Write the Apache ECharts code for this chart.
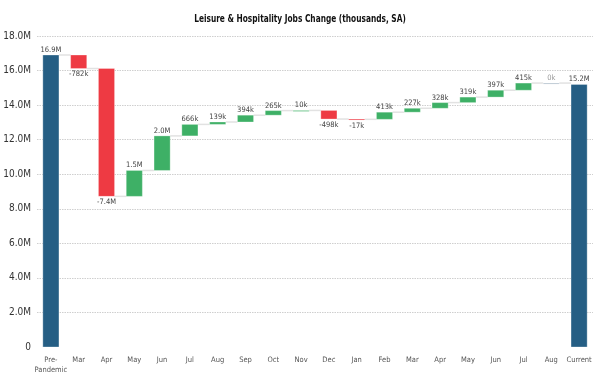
<!DOCTYPE html>
<html><head><meta charset="utf-8">
<script src="https://cdn.jsdelivr.net/npm/echarts@6/dist/echarts.min.js"></script>
<style>html,body{margin:0;padding:0;background:#fff}#c{width:600px;height:377px}</style>
</head><body><div id="c"></div>
<script>
const categories = ['Pre-\nPandemic','Mar','Apr','May','Jun','Jul','Aug','Sep','Oct','Nov','Dec','Jan','Feb','Mar','Apr','May','Jun','Jul','Aug','Current'];
const startTotal = 16900;   // thousands
const changes = [-782,-7400,1500,2000,666,139,394,265,10,-498,-17,413,227,328,319,397,415,0];
const endTotal = 15200;
const yTicks = {min:0, max:18000, interval:2000};
const titleText = 'Leisure & Hospitality Jobs Change (thousands, SA)';

function fmt(v){ return Math.abs(v)>=1000 ? (v/1000).toFixed(1)+'M' : v+'k'; }
// waterfall rows [index, from, to, kind, label]
const rows = [];
rows.push([0, 0, startTotal, 'total', fmt(startTotal)]);
let run = startTotal;
changes.forEach((c,i)=>{ rows.push([i+1, run, run+c, c>0?'up':(c<0?'down':'zero'), fmt(c)]); run += c; });
rows.push([rows.length, 0, endTotal, 'total', fmt(endTotal)]);

const colors = {total:'#255e84', up:'#3eb066', down:'#ee3a43', zero:'#a9b8c6'};
const NARROW = '"DejaVu Sans Condensed", sans-serif';
const chart = echarts.init(document.getElementById('c'));
chart.setOption({
  animation:false,
  graphic:[{type:'text', x:300, y:19, scaleX:0.75, originX:0, originY:0,
    style:{text:titleText, align:'center', verticalAlign:'middle',
      font:'bold 11px "DejaVu Sans Condensed", sans-serif', fill:'#111'}}],
  grid:{left:37, right:7, top:36, bottom:30},
  xAxis:{type:'category', data:categories.map((c,i)=>String(i)), axisLine:{show:false}, axisTick:{show:false},
    axisLabel:{interval:0, fontFamily:NARROW, fontSize:7.5, color:'#555', margin:8, lineHeight:10,
      formatter:(v)=>categories[+v]}},
  yAxis:{type:'value', min:yTicks.min, max:yTicks.max, interval:yTicks.interval,
    axisLine:{show:false}, axisTick:{show:false},
    splitLine:{showMinLine:false, lineStyle:{color:'#cfcfcf', type:[1.5,1], width:1}},
    axisLabel:{fontFamily:NARROW, fontSize:10, color:'#333', margin:6,
      formatter:(v)=> v===0?'0':(v/1000).toFixed(1)+'M'}},
  series:[{
    type:'custom',
    encode:{x:0, y:[1,2]},
    data:rows,
    renderItem:(params, api)=>{
      const i = api.value(0), a = api.value(1), b = api.value(2);
      const kind = rows[params.dataIndex][3], lab = rows[params.dataIndex][4];
      const pa = api.coord([i,a]), pb = api.coord([i,b]);
      const step = api.size([1,0])[0];
      const bw = step*0.58;
      const top = Math.min(pa[1],pb[1]), h = Math.max(Math.abs(pa[1]-pb[1]),1);
      const x0 = pa[0]-bw/2;
      const children = [];
      if (params.dataIndex < rows.length-1){
        const y = pb[1];
        children.push({type:'line', shape:{x1:x0+bw, y1:y, x2:x0+step, y2:y},
          style:{stroke:'#e2e2e2', lineWidth:1.5}});
      }
      children.push({type:'rect', shape:{x:x0, y:top, width:bw, height:h},
        style:{fill:colors[kind], stroke:'rgba(255,255,255,0.6)', lineWidth:0.5}});
      const below = kind==='down';
      children.push({type:'text', style:{text:lab, x:pa[0], y: below ? top+h+2 : top-1,
        align:'center', verticalAlign: below?'top':'bottom',
        font:'7.5px '+NARROW, fill: kind==='zero'?'#999':'#444'}});
      return {type:'group', children};
    }
  }]
});
</script></body></html>
